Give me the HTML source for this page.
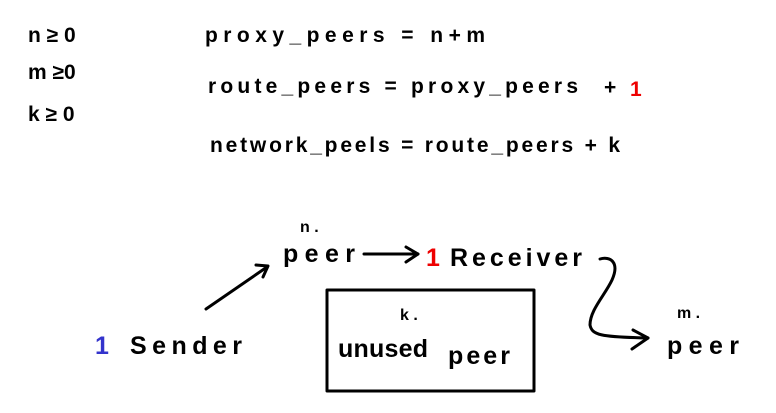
<!DOCTYPE html>
<html><head><meta charset="utf-8"><style>
html,body{margin:0;padding:0;background:#fff;}
svg{display:block;}
text{font-family:"Liberation Sans",sans-serif;fill:#000;font-weight:bold;}
</style></head><body>
<svg width="776" height="413" viewBox="0 0 776 413" xmlns="http://www.w3.org/2000/svg">
<g font-size="21">
<text x="28" y="42">n ≥ 0</text>
<text x="28" y="79">m ≥0</text>
<text x="28" y="121">k ≥ 0</text>
<text x="205" y="42" textLength="280">proxy_peers = n+m</text>
<text x="208" y="93" textLength="370">route_peers = proxy_peers</text>
<text x="604" y="94">+</text>
<text x="630" y="96" style="fill:#e00">1</text>
<text x="210" y="152" textLength="410">network_peels = route_peers + k</text>
</g>
<g font-size="25">
<text x="300" y="232" font-size="16">n .</text>
<text x="283" y="262" textLength="72">peer</text>
<text x="426" y="266" style="fill:#e00">1</text>
<text x="450" y="266" textLength="132">Receiver</text>
<text x="95" y="354" style="fill:#33c">1</text>
<text x="130" y="354" textLength="112">Sender</text>
<text x="400" y="320" font-size="16">k .</text>
<text x="338" y="357" textLength="90">unused</text>
<text x="448" y="364" textLength="62">peer</text>
<text x="677" y="318" font-size="16">m .</text>
<text x="667" y="354" textLength="72">peer</text>
</g>
<g stroke="#000" stroke-width="3" fill="none" stroke-linecap="round" stroke-linejoin="round">
<rect x="327" y="290" width="207" height="101"/>
<line x1="364" y1="254" x2="418" y2="254"/>
<polyline points="406,247 418,254 406,262"/>
<line x1="206" y1="309" x2="267" y2="267"/>
<polyline points="256,265 268,266 263,277"/>
<path d="M600,259 C610,256 620,262 612,280 C605,295 590,310 590,325 C592,335 600,337 648,338"/>
<polyline points="633,330 648,338 632,349"/>
</g>
</svg>
</body></html>
